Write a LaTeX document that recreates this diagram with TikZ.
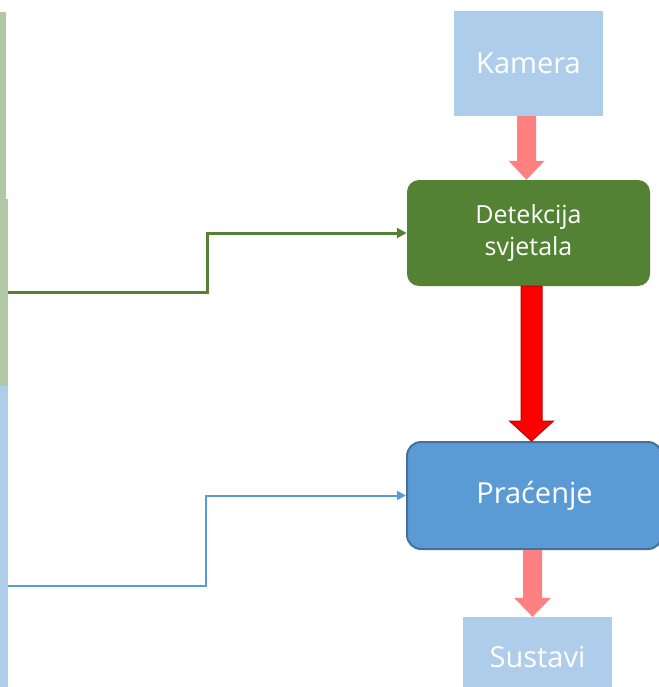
\documentclass[tikz,border=0pt]{standalone}
\usepackage{fontspec}
\setmainfont{Open Sans}
\usetikzlibrary{arrows.meta,calc}
\definecolor{lblue}{HTML}{AECDEA}
\definecolor{pinkarr}{HTML}{FF8080}
\definecolor{dgreen}{HTML}{548235}
\definecolor{mblue}{HTML}{5B9BD5}
\definecolor{bblue}{HTML}{41719C}
\definecolor{lgreen}{HTML}{B0C8A6}
\definecolor{dred}{HTML}{C00000}
\tikzset{
  lightbox/.style={rectangle,fill=lblue,text=white,inner sep=0pt,font=\fontsize{29}{34}\selectfont},
  greenbox/.style={rectangle,rounded corners=12pt,fill=dgreen,text=white,inner sep=0pt,align=center,font=\fontsize{25}{32}\selectfont},
  bluebox/.style={rectangle,rounded corners=14pt,fill=mblue,draw=bblue,line width=2pt,text=white,inner sep=0pt,font=\fontsize{29}{34}\selectfont},
  pinkblock/.style={fill=pinkarr},
  redblock/.style={fill=red,draw=dred,line width=1pt},
  gline/.style={draw=dgreen,line width=3pt,-{Triangle[length=10pt,width=10pt]}},
  bline/.style={draw=mblue,line width=2pt,-{Triangle[length=9pt,width=9pt]}},
}
% #1 style, #2 from, #3 to, #4 x offset, #5 shaft half width, #6 head half width, #7 head length
\newcommand\myblockarrow[7]{%
  \path[#1] let \p1=(#2), \p2=(#3) in
    (\x1+#4pt-#5pt,\y1) -- (\x1+#4pt+#5pt,\y1) -- (\x1+#4pt+#5pt,\y2+#7pt)
    -- (\x1+#4pt+#6pt,\y2+#7pt) -- (\x1+#4pt,\y2) -- (\x1+#4pt-#6pt,\y2+#7pt)
    -- (\x1+#4pt-#5pt,\y2+#7pt) -- cycle;}
\begin{document}
\begin{tikzpicture}[x=1pt,y=-1pt]
\useasboundingbox (0,0) rectangle (658,687);
% left strips
\fill[lgreen] (0,12) rectangle (6,199);
\fill[lgreen] (0,199) rectangle (8,386);
\fill[lblue] (0,386) rectangle (8,690);
% nodes
\node[lightbox,minimum width=149pt,minimum height=105pt] (kam) at (528.5,63.5) {Kamera};
\node[greenbox,minimum width=243pt,minimum height=106pt] (det) at (528.5,233) {Detekcija\\svjetala};
\node[bluebox,minimum width=255pt,minimum height=107pt] (pra) at (534.5,495.5) {Praćenje};
\node[lightbox,minimum width=149pt,minimum height=80pt] (sus) at (537.5,657) {Sustavi};
% block arrows
\myblockarrow{pinkblock}{kam.south}{det.north}{-2}{9.5}{18}{19}
\myblockarrow{redblock}{det.south}{pra.north}{3}{10.5}{22}{20}
\myblockarrow{pinkblock}{pra.south}{sus.north}{-2}{9.5}{18.5}{19}
% connectors
\coordinate (gs) at (8,292);
\coordinate (gm) at (207,292);
\coordinate (bs) at (8,586);
\coordinate (bm) at (206,586);
\draw[gline] (gs) -- (gm) |- (det.west);
\draw[bline] (bs) -- (bm) |- (pra.west);
\end{tikzpicture}
\end{document}
